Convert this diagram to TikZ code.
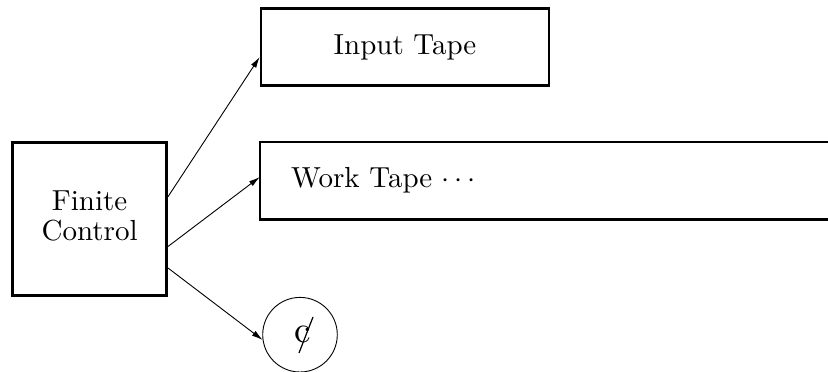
\documentclass[tikz,border=0pt]{standalone}
\usetikzlibrary{arrows.meta,calc}
\newcommand{\bigtxt}[1]{\scalebox{2.9}{\fontsize{10}{10.35}\selectfont #1}}
\begin{document}
\begin{tikzpicture}[x=1pt,y=-1pt,
  box/.style={draw,line width=2.6pt,inner sep=0pt},
  arr/.style={-{Latex[length=11pt,width=6pt]},line width=0.9pt},
  ring/.style={draw,circle,line width=0.9pt,inner sep=0pt,minimum size=74.6pt}]
\useasboundingbox (0,0) rectangle (828,372);
% Finite control
\node[box,minimum width=154.2pt,minimum height=153.2pt] (fc) at (89.6,219.1)
  {\bigtxt{\begin{tabular}{@{}c@{}}Finite\\Control\end{tabular}}};
% Input tape
\node[box,minimum width=288pt,minimum height=77pt] (in) at (405,47.2) {\bigtxt{Input Tape}};
% Work tape (open on the right)
\node[inner sep=0pt,minimum width=580pt,minimum height=77pt] (work) at (550,180.8) {};
\draw[line width=2.6pt] (work.north east) -| (work.south west) -- (work.south east);
\node[anchor=base west,inner sep=0pt] (wt) at (291,187) {\bigtxt{Work Tape $\cdots$}};
% cent register
\node[ring] (cent) at (300,334.7) {\hspace*{6pt}\scalebox{3.7}{\fontsize{10}{10}\selectfont c}};
\draw[line width=1.2pt] ($(cent.center)+(13,-17.7)$) -- ($(cent.center)+(-1,18.3)$);
% connectors
\draw[arr] ([yshift=22.4pt]fc.east) -- ([yshift=-9.8pt]in.west);
\draw[arr] ([yshift=-27.4pt]fc.east) -- ([yshift=3.8pt]work.west);
\draw[arr] ([yshift=-48.9pt]fc.east) -- (cent.188);
\end{tikzpicture}
\end{document}
